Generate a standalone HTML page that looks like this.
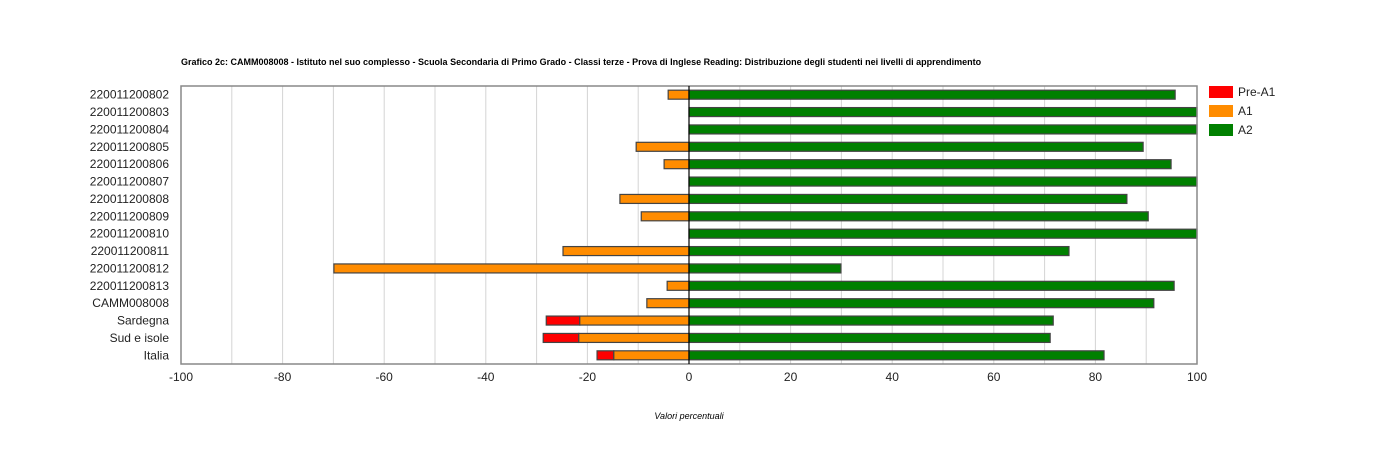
<!DOCTYPE html>
<html><head><meta charset="utf-8"><style>
body{margin:0;background:#fff;font-family:"Liberation Sans",Arial,sans-serif;}
svg{display:block}
</style></head><body>
<svg id="c" width="1377" height="450" xmlns="http://www.w3.org/2000/svg">
<text x="181" y="65" font-size="9" font-weight="bold">Grafico 2c: CAMM008008 - Istituto nel suo complesso - Scuola Secondaria di Primo Grado - Classi terze - Prova di Inglese Reading: Distribuzione degli studenti nei livelli di apprendimento</text>
<text x="689" y="419" font-size="9" font-style="italic" text-anchor="middle">Valori percentuali</text>
<g id="grid"></g><g id="bars"></g><g id="axes"></g>
<g>
<rect x="1209" y="86" width="24" height="12" fill="#ff0000"/>
<text x="1238" y="96" font-size="12" fill="#222">Pre-A1</text>
<rect x="1209" y="105" width="24" height="12" fill="#ff8c00"/>
<text x="1238" y="115" font-size="12" fill="#222">A1</text>
<rect x="1209" y="124" width="24" height="12" fill="#008000"/>
<text x="1238" y="134" font-size="12" fill="#222">A2</text>
</g>
</svg>
<script>
const categories=["220011200802","220011200803","220011200804","220011200805","220011200806","220011200807","220011200808","220011200809","220011200810","220011200811","220011200812","220011200813","CAMM008008","Sardegna","Sud e isole","Italia"];
const preA1=[0,0,0,0,0,0,0,0,0,0,0,0,0,6.6,7.0,3.3];
const a1=[4.1,0,0,10.4,4.9,0,13.6,9.4,0,24.8,69.9,4.3,8.3,21.5,21.7,14.8];
const a2=[95.7,100,100,89.4,94.9,100,86.2,90.4,100,74.8,29.9,95.5,91.5,71.7,71.1,81.7];
const xTicks=[-100,-80,-60,-40,-20,0,20,40,60,80,100];
const NS="http://www.w3.org/2000/svg";
const L=181,R=1197,T=86,B=364;
const xs=v=>L+(v+100)/200*(R-L);
const band=(B-T)/categories.length;
const yc=i=>T+band*(i+0.5);
function mk(tag,attrs,parent){const e=document.createElementNS(NS,tag);for(const k in attrs)e.setAttribute(k,attrs[k]);parent.appendChild(e);return e;}
const grid=document.getElementById('grid'),bars=document.getElementById('bars'),axes=document.getElementById('axes');
for(let v=-90;v<100;v+=10){if(v===0)continue;const l=mk('line',{x1:xs(v),x2:xs(v),y1:T,y2:B,stroke:'#d4d4d4','stroke-width':1},grid);

}
const bh=9;
function bar(x0,x1,i,fill,name){if(Math.abs(x1-x0)<0.01)return;const r=mk('rect',{x:Math.min(xs(x0),xs(x1)),y:yc(i)-bh/2,width:Math.abs(xs(x1)-xs(x0)),height:bh,fill:fill,stroke:'#444','stroke-width':1.2},bars);

}
categories.forEach((c,i)=>{
bar(-a1[i],-(a1[i]+preA1[i]),i,'#ff0000','bar-pre-a1');
bar(0,-a1[i],i,'#ff8c00','bar-a1');
bar(0,a2[i],i,'#008000','bar-a2');
const t=mk('text',{x:L-12,y:yc(i)+4,'font-size':12,'text-anchor':'end',fill:'#222'},axes);t.textContent=c;


});
const f=mk('rect',{x:L,y:T,width:R-L,height:B-T,fill:'none',stroke:'#888','stroke-width':1.5},axes);


const z=mk('line',{x1:xs(0),x2:xs(0),y1:T,y2:B,stroke:'#000','stroke-width':1.2},axes);


xTicks.forEach(v=>{const t=mk('text',{x:xs(v),y:B+17,'font-size':12,'text-anchor':'middle',fill:'#222'},axes);t.textContent=v;

});
</script>
</body></html>
